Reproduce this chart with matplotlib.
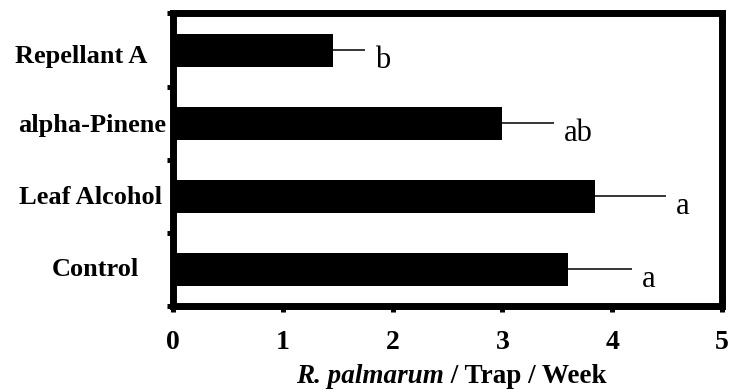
import numpy as np
import matplotlib
matplotlib.use("Agg")
import matplotlib.pyplot as plt

# data
treatments = ["Repellant A", "alpha-Pinene", "Leaf Alcohol", "Control"]
means = [1.46, 3.00, 3.84, 3.60]
errors = [0.29, 0.47, 0.65, 0.58]
letters = ["b", "ab", "a", "a"]
x_ticks = [0, 1, 2, 3, 4, 5]

plt.rcParams["font.family"] = ["Liberation Serif", "DejaVu Serif"]

fig = plt.figure(figsize=(7.3, 3.92), dpi=100)
ax = fig.add_axes([0.237, 0.2194, 0.752, 0.7462])

pos = np.arange(len(treatments))
ax.barh(pos, means, height=0.45, color="black",
        xerr=[np.zeros(len(errors)), errors],
        error_kw=dict(ecolor="black", elinewidth=1.1, capsize=0))

for i, (m, e, lab) in enumerate(zip(means, errors, letters)):
    ax.annotate(lab, xy=(m + e, i), xytext=(7, -13), textcoords="offset points",
                ha="left", va="baseline", fontsize=22)

ax.set_xlim(0, 5)
ax.set_ylim(len(treatments) - 0.5, -0.5)
ax.set_xticks(x_ticks)
ax.set_xticklabels([str(t) for t in x_ticks], fontsize=20, fontweight="bold")
ax.set_yticks(np.arange(-0.5, len(treatments), 1.0))
ax.set_yticklabels([])
ax.tick_params(axis="both", direction="out", length=4.5, width=3.6)
ax.tick_params(axis="x", pad=13)

# category labels sit a bit irregularly in the original
label_dx = [-26, -7, -11, -34]
label_dy = [-6, -2, -1, 0]
for i, (name, dx, dy) in enumerate(zip(treatments, label_dx, label_dy)):
    ax.annotate(name, xy=(0, i), xytext=(dx * 0.72, dy * 0.72),
                textcoords="offset points", ha="right", va="center",
                fontsize=19, fontweight="bold", annotation_clip=False)

for side in ["left", "right", "top", "bottom"]:
    ax.spines[side].set_linewidth(5)

# x label: italic species name + plain bold rest, centred under the axes
part1 = fig.text(0, 0.022, "R. palmarum", fontsize=19.5, fontweight="bold",
                 fontstyle="italic", va="baseline")
part2 = fig.text(0, 0.022, " / Trap / Week", fontsize=19.5, fontweight="bold",
                 va="baseline")
fig.canvas.draw()
r = fig.canvas.get_renderer()
w1 = part1.get_window_extent(r).width
w2 = part2.get_window_extent(r).width
fw = fig.bbox.width
ax_bb = ax.get_position()
centre = (ax_bb.x0 + ax_bb.x1) / 2 * fw + 4
start = centre - (w1 + w2) / 2
part1.set_x(start / fw)
part2.set_x((start + w1) / fw)

fig.savefig("out.png", dpi=100)
